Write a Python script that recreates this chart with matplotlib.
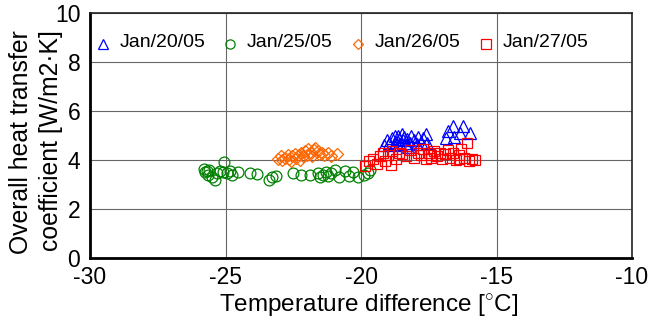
import numpy as np
import matplotlib.pyplot as plt

plt.rcParams['font.family'] = ['Liberation Sans', 'DejaVu Sans']
plt.rcParams['mathtext.fontset'] = 'custom'
plt.rcParams['mathtext.rm'] = 'Liberation Sans'
plt.rcParams['axes.unicode_minus'] = False

# Jan/20/05 - triangoli blu
dt_20 = [-19.15, -19.05, -18.95, -18.85, -18.8, -18.75, -18.7, -18.65, -18.6, -18.55, -18.5,
         -18.45, -18.4, -18.35, -18.3, -18.25, -18.2, -18.15, -18.05, -17.95, -17.9, -17.8,
         -17.7, -17.6, -17.55, -16.85, -16.8, -16.6, -16.55, -16.35, -16.25, -15.98]
u_20 = [4.6, 4.8, 4.7, 4.9, 4.6, 5.0, 4.75, 5.0, 4.85, 4.65, 5.05,
        4.8, 4.95, 4.6, 4.85, 4.55, 4.7, 5.0, 4.8, 4.65, 4.95, 4.75,
        4.9, 5.05, 4.7, 4.9, 5.2, 5.4, 4.95, 5.1, 5.4, 5.1]

# Jan/25/05 - cerchi verdi
dt_25 = [-25.8, -25.75, -25.7, -25.65, -25.6, -25.5, -25.4, -25.3, -25.2, -25.1, -25.05,
         -24.95, -24.85, -24.75, -24.55, -24.1, -23.85, -23.4, -23.3, -23.15, -22.5, -22.2,
         -21.9, -21.6, -21.5, -21.4, -21.3, -21.2, -21.1, -20.95, -20.8, -20.6, -20.45,
         -20.3, -20.1, -19.9, -19.75, -19.65]
u_25 = [3.65, 3.5, 3.55, 3.4, 3.6, 3.3, 3.2, 3.45, 3.55, 3.5, 3.9,
        3.45, 3.55, 3.4, 3.5, 3.45, 3.42, 3.2, 3.3, 3.35, 3.45, 3.4,
        3.38, 3.45, 3.3, 3.4, 3.5, 3.35, 3.45, 3.6, 3.3, 3.55, 3.35,
        3.5, 3.3, 3.4, 3.45, 3.6]

# Jan/26/05 - rombi arancioni
dt_26 = [-23.05, -22.95, -22.9, -22.8, -22.7, -22.65, -22.6, -22.55, -22.45, -22.4, -22.3,
         -22.25, -22.2, -22.15, -22.05, -22.0, -21.95, -21.85, -21.8, -21.75, -21.7, -21.6,
         -21.55, -21.45, -21.35, -21.2, -21.1, -20.9]
u_26 = [4.05, 4.15, 4.0, 4.1, 4.2, 4.05, 3.95, 4.15, 4.25, 4.1, 4.2,
        4.0, 4.3, 4.15, 4.35, 4.2, 4.45, 4.3, 4.15, 4.4, 4.5, 4.35,
        4.25, 4.3, 4.2, 4.3, 4.15, 4.25]

# Jan/27/05 - quadrati rossi
dt_27 = [-19.85, -19.7, -19.55, -19.4, -19.3, -19.2, -19.1, -19.0, -18.9, -18.85, -18.7,
         -18.6, -18.5, -18.35, -18.2, -18.05, -17.9, -17.8, -17.7, -17.6, -17.5, -17.4,
         -17.4, -17.3, -17.2, -17.1, -17.0, -16.9, -16.8, -16.7, -16.6, -16.5, -16.4,
         -16.4, -16.3, -16.2, -16.1, -16.0, -15.9, -15.8]
u_27 = [3.75, 3.95, 4.05, 3.85, 4.15, 4.3, 3.95, 4.2, 3.8, 4.35, 4.05,
        4.3, 4.25, 4.15, 4.4, 4.1, 4.3, 4.2, 4.45, 4.05, 4.3, 4.2,
        4.1, 4.35, 4.15, 4.3, 4.05, 4.25, 4.4, 4.1, 4.3, 4.0, 4.2,
        4.05, 4.45, 4.1, 4.7, 3.95, 4.05, 4.0]

labels = ['Jan/20/05', 'Jan/25/05', 'Jan/26/05', 'Jan/27/05']
colors = ['#0000ff', '#008000', '#ff6600', '#ff0000']
markers = ['^', 'o', 'D', 's']
sizes = [8.5, 7.8, 6.5, 7.8]
series = [(dt_20, u_20), (dt_25, u_25), (dt_26, u_26), (dt_27, u_27)]

# posizioni "legenda" scritta dentro il grafico
leg_x = [-29.52, -24.83, -20.11, -15.39]
leg_y = 8.73

fig = plt.figure(figsize=(6.48, 3.2), dpi=100)
ax = fig.add_axes([90/648, 1-258/320, (632-90)/648, (258-13)/320])

for (x, y), c, m, s in zip(series, colors, markers, sizes):
    ax.plot(x, y, linestyle='none', marker=m, markersize=s, markerfacecolor='none',
            markeredgecolor=c, markeredgewidth=0.9)

for lx, lab, c, m, s in zip(leg_x, labels, colors, markers, sizes):
    ax.plot([lx], [leg_y], marker=m, markersize=s*0.85, markerfacecolor='none',
            markeredgecolor=c, markeredgewidth=0.9, linestyle='none')
    ax.text(lx + 0.6, leg_y + 0.08, lab, fontsize=14, va='center', ha='left')

ax.set_xlim(-30, -10)
ax.set_ylim(0, 10)
ax.set_xticks([-30, -25, -20, -15, -10])
ax.set_yticks([0, 2, 4, 6, 8, 10])
ax.grid(True, color='#666666', linewidth=0.8)
ax.set_axisbelow(True)
ax.tick_params(length=0, labelsize=16.5)
ax.tick_params(axis='y', pad=7)
ax.tick_params(axis='x', pad=6)
for sp in ['left', 'bottom']:
    ax.spines[sp].set_linewidth(2)
    ax.spines[sp].set_color('black')
for sp in ['top', 'right']:
    ax.spines[sp].set_linewidth(1.2)
    ax.spines[sp].set_color('#222222')

ax.set_xlabel('Temperature difference [$^{\\circ}$C]', fontsize=17.5)
ax.xaxis.label.set_va('center')
ax.xaxis.set_label_coords(0.515, -0.194)
ax.set_ylabel('Overall heat transfer\ncoefficient [W/m2\u00b7K]', fontsize=17.8,
              linespacing=1.3, multialignment='right')
ax.yaxis.label.set_va('center')
ax.yaxis.set_label_coords(-0.099, 0.473)

plt.savefig('out.png', dpi=100)
